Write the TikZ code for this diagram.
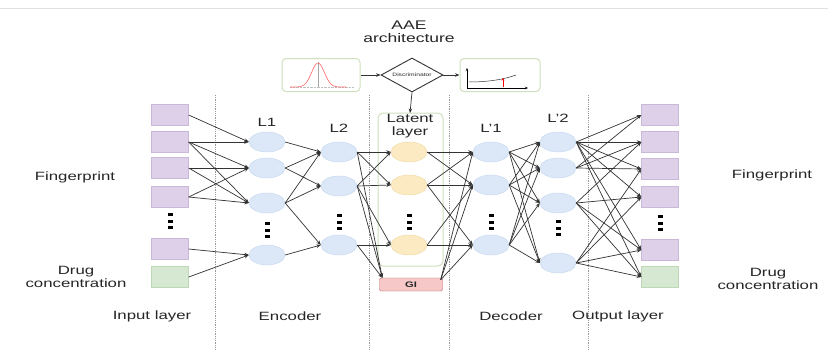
\documentclass[tikz,border=0pt]{standalone}
\usepackage{fontspec}
\setmainfont{Liberation Sans}[FakeStretch=1.4]
\usetikzlibrary{shapes.geometric,arrows.meta,calc}
\definecolor{inbox}{HTML}{DDD0E8}
\definecolor{inedge}{HTML}{C9B8D8}
\definecolor{drugbox}{HTML}{D6E8D2}
\definecolor{drugedge}{HTML}{BCD8B6}
\definecolor{hidfill}{HTML}{DCE8F8}
\definecolor{hidedge}{HTML}{C4D6EE}
\definecolor{latfill}{HTML}{FCEBC2}
\definecolor{latedge}{HTML}{F0D8A0}
\definecolor{gifill}{HTML}{F6C9C8}
\definecolor{giedge}{HTML}{C06060}
\definecolor{panel}{HTML}{CFE0BC}
\definecolor{txt}{HTML}{262626}
\definecolor{wire}{HTML}{333333}
\tikzset{
  fpbox/.style={rectangle, draw=inedge, fill=inbox, minimum width=37pt, minimum height=21pt, inner sep=0pt},
  drugcell/.style={rectangle, draw=drugedge, fill=drugbox, minimum width=37pt, minimum height=21pt, inner sep=0pt},
  hid/.style={ellipse, draw=hidedge, fill=hidfill, minimum width=36pt, minimum height=20pt, inner sep=0pt},
  lat/.style={ellipse, draw=latedge, fill=latfill, minimum width=36pt, minimum height=20pt, inner sep=0pt},
  conn/.style={draw=wire, line width=0.7pt, -{Stealth[length=4.5pt,width=3.5pt]}},
  lbl/.style={text=txt, font=\fontsize{12}{13}\selectfont, align=center, inner sep=1pt},
  sep/.style={draw=gray!80, densely dotted, line width=0.8pt},
  pic/.style={draw=panel, rounded corners=4pt, line width=1pt, fill=white, minimum width=78pt, minimum height=33pt}
}
% three stacked bars marking omitted units
\newcommand{\vdotsbar}[2]{%
  \fill[black] (#1-2.5,#2-8) rectangle (#1+2.5,#2-5);
  \fill[black] (#1-2.5,#2-1.5) rectangle (#1+2.5,#2+1.5);
  \fill[black] (#1-2.5,#2+5) rectangle (#1+2.5,#2+8);}
\begin{document}
\begin{tikzpicture}[x=1pt,y=-1pt]
\useasboundingbox (0,0) rectangle (828,359);
\fill[white] (0,0) rectangle (828,359);
\draw[gray!25] (0,8) -- (828,8);

% layer separators
\foreach \xx in {215,369,449,588} \draw[sep] (\xx,95) -- (\xx,350);

% latent layer frame
\draw[draw=panel, rounded corners=5pt, line width=1pt] (378,113) rectangle (443,266);
\node[lbl, font=\fontsize{12}{12.5}\selectfont] (latlbl) at (410,126) {Latent\\layer};

% input layer
\node[fpbox] (in1) at (170,115) {};
\node[fpbox] (in2) at (170,142) {};
\node[fpbox] (in3) at (170,168) {};
\node[fpbox] (in4) at (170,197) {};
\node[fpbox] (in5) at (170,249) {};
\node[drugcell] (in6) at (170,277) {};
\vdotsbar{170}{221}

% encoder
\node[hid] (a1) at (267,142) {};
\node[hid] (a2) at (267,168) {};
\node[hid] (a3) at (267,203) {};
\node[hid] (a4) at (267,255) {};
\vdotsbar{267}{230}
\node[hid] (b1) at (339,152) {};
\node[hid] (b2) at (339,186) {};
\node[hid] (b3) at (339,245) {};
\vdotsbar{339}{222}

% latent
\node[lat] (c1) at (409,152) {};
\node[lat] (c2) at (409,185) {};
\node[lat] (c3) at (409,245) {};
\vdotsbar{409}{222}
\node[rectangle, rounded corners=2pt, draw=giedge, fill=gifill, minimum width=63pt, minimum height=13pt, inner sep=0pt, font=\fontsize{8}{9}\selectfont\bfseries, text=txt] (gi) at (411,284.5) {GI};

% decoder
\node[hid] (d1) at (491,152) {};
\node[hid] (d2) at (491,185) {};
\node[hid] (d3) at (491,245) {};
\vdotsbar{491}{222}
\node[hid] (e1) at (558,142) {};
\node[hid] (e2) at (558,168) {};
\node[hid] (e3) at (558,203) {};
\node[hid] (e4) at (558,263) {};
\vdotsbar{558}{228}

% output layer
\node[fpbox] (o1) at (660,115) {};
\node[fpbox] (o2) at (660,142) {};
\node[fpbox] (o3) at (660,169) {};
\node[fpbox] (o4) at (660,197) {};
\node[fpbox] (o5) at (660,250) {};
\node[drugcell] (o6) at (660,277) {};
\vdotsbar{660}{223}

% layer titles
\node[lbl] (tl1) at (267,122) {L1};
\node[lbl] (tl2) at (339,128) {L2};
\node[lbl] (td1) at (491,128) {L'1};
\node[lbl] (td2) at (558,118) {L'2};

% side labels
\node[lbl] (fpl) at (75,177) {Fingerprint};
\node[lbl] (drl) at (76,277) {Drug\\concentration};
\node[lbl] (fpr) at (772,175) {Fingerprint};
\node[lbl] (drr) at (768,279) {Drug\\concentration};
\node[lbl] (s1) at (152,316) {Input layer};
\node[lbl] (s2) at (290,316) {Encoder};
\node[lbl] (s3) at (511,316) {Decoder};
\node[lbl] (s4) at (618,316) {Output layer};

% connections: input -> L1
\foreach \s/\t in {in1/a1,in2/a1,in2/a2,in2/a3,in3/a2,in3/a3,in4/a2,in4/a3,in5/a4,in6/a4}
  \draw[conn] (\s.east) -- (\t.west);
% L1 -> L2
\foreach \s/\t in {a1/b1,a2/b1,a2/b2,a3/b1,a3/b2,a3/b3,a4/b3}
  \draw[conn] (\s.east) -- (\t.west);
% L2 -> latent
\foreach \s/\t in {b1/c1,b1/c2,b2/c1,b2/c2,b2/c3,b3/c3}
  \draw[conn] (\s.east) -- (\t.west);
\foreach \s in {b1,b2,b3}
  \draw[conn] (\s.east) -- ($(gi.north west)+(3,0)$);
% latent -> L'1
\foreach \s/\t in {c1/d1,c1/d2,c2/d1,c2/d2,c2/d3,c3/d2,c3/d3}
  \draw[conn] (\s.east) -- (\t.west);
\foreach \t in {d1,d2,d3}
  \draw[conn] ($(gi.north east)+(-2,2)$) -- (\t.west);
% L'1 -> L'2
\foreach \s in {d1,d2,d3}
  \foreach \t in {e1,e2,e3,e4}
    \draw[conn] (\s.east) -- (\t.west);
% L'2 -> output
\foreach \s/\t in {e1/o1,e1/o2,e1/o3,e1/o4,e1/o5,e1/o6,e2/o1,e2/o2,e2/o3,e3/o4,e3/o5,e3/o6,e3/o2,e4/o4,e4/o5,e4/o6,e4/o3}
  \draw[conn] (\s.east) -- (\t.west);

% AAE panel
\node[lbl, font=\fontsize{12.5}{12.5}\selectfont] (aae) at (409,32) {AAE\\architecture};
\node[pic] (prior) at (321,75) {};
\node[diamond, draw=wire, line width=0.9pt, fill=white, minimum width=62pt, minimum height=34pt, inner sep=0pt, aspect=1.8, font=\fontsize{4.8}{5}\selectfont, text=txt] (disc) at (412,75) {Discriminator};
\node[pic, minimum width=80pt] (score) at (500,75) {};
\draw[conn] (prior.east) -- (disc.west);
\draw[conn] (disc.east) -- (score.west);
\draw[conn] (disc.south) -- (410,113);
% gaussian prior sketch
\draw[gray!50, densely dotted] (290,87) -- (354,87);
\draw[gray!70] (318,87) -- (318,62);
\draw[red!60, line width=0.6pt] plot[domain=-28:28, samples=50] (\x+318, {87-24*exp(-(\x/9)^2)});
% score sketch
\draw[black, line width=0.7pt, -{Stealth[length=3pt,width=2.5pt]}] (467,88) -- (467,68);
\draw[black, line width=0.7pt, -{Stealth[length=3pt,width=2.5pt]}] (467,88) -- (528,88);
\draw[black!80, line width=0.5pt] (469,82) .. controls (490,82) and (505,79) .. (516,75);
\draw[red, line width=0.7pt, -{Stealth[length=2.5pt,width=2.5pt]}] (503,87) -- (503,78);
\end{tikzpicture}
\end{document}
